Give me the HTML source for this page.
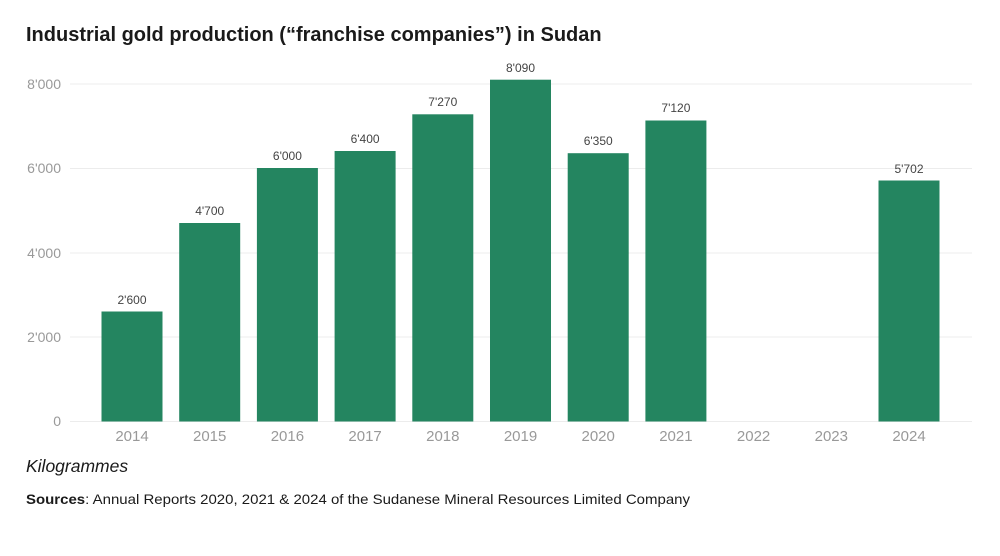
<!DOCTYPE html>
<html><head><meta charset="utf-8"><style>
body{margin:0;background:#fff;font-family:"Liberation Sans",Arial,sans-serif}
</style></head><body>
<svg width="1000" height="551" xmlns="http://www.w3.org/2000/svg" font-family="Liberation Sans, Arial, sans-serif">
<text x="26" y="41" font-size="20" font-weight="bold" fill="#1a1a1a">Industrial gold production (“franchise companies”) in Sudan</text>
<g stroke="#ececec" stroke-width="1">
<line x1="70" x2="972" y1="84" y2="84"/><line x1="70" x2="972" y1="168.5" y2="168.5"/>
<line x1="70" x2="972" y1="253" y2="253"/><line x1="70" x2="972" y1="337" y2="337"/>
<line x1="70" x2="972" y1="421.5" y2="421.5"/>
</g>
<g font-size="14" fill="#999" text-anchor="end">
<text x="61" y="89">8'000</text><text x="61" y="173">6'000</text><text x="61" y="258">4'000</text><text x="61" y="342">2'000</text><text x="61" y="426">0</text>
</g>
<g fill="#248560">
<rect x="101.5" y="311.5" width="61" height="110"/>
<rect x="179.2" y="223" width="61" height="198.5"/>
<rect x="256.9" y="168" width="61" height="253.5"/>
<rect x="334.6" y="151" width="61" height="270.5"/>
<rect x="412.3" y="114.3" width="61" height="307.2"/>
<rect x="490" y="79.7" width="61" height="341.8"/>
<rect x="567.7" y="153.2" width="61" height="268.3"/>
<rect x="645.4" y="120.5" width="61" height="301"/>
<rect x="878.5" y="180.5" width="61" height="241"/>
</g>
<g font-size="12" fill="#444" text-anchor="middle">
<text x="132" y="304">2'600</text><text x="209.7" y="215">4'700</text><text x="287.4" y="160">6'000</text>
<text x="365.1" y="143">6'400</text><text x="442.8" y="106">7'270</text><text x="520.5" y="72">8'090</text>
<text x="598.2" y="145">6'350</text><text x="675.9" y="112">7'120</text><text x="909" y="173">5'702</text>
</g>
<g font-size="15" fill="#999" text-anchor="middle">
<text x="132" y="441">2014</text><text x="209.7" y="441">2015</text><text x="287.4" y="441">2016</text>
<text x="365.1" y="441">2017</text><text x="442.8" y="441">2018</text><text x="520.5" y="441">2019</text>
<text x="598.2" y="441">2020</text><text x="675.9" y="441">2021</text><text x="753.6" y="441">2022</text>
<text x="831.3" y="441">2023</text><text x="909" y="441">2024</text>
</g>
<text x="26" y="472" font-size="17.5" font-style="italic" fill="#1a1a1a">Kilogrammes</text>
<text x="26" y="504" font-size="14" fill="#1a1a1a" textLength="664" lengthAdjust="spacingAndGlyphs"><tspan font-weight="bold">Sources</tspan>: Annual Reports 2020, 2021 &amp; 2024 of the Sudanese Mineral Resources Limited Company</text>
</svg>
</body></html>
